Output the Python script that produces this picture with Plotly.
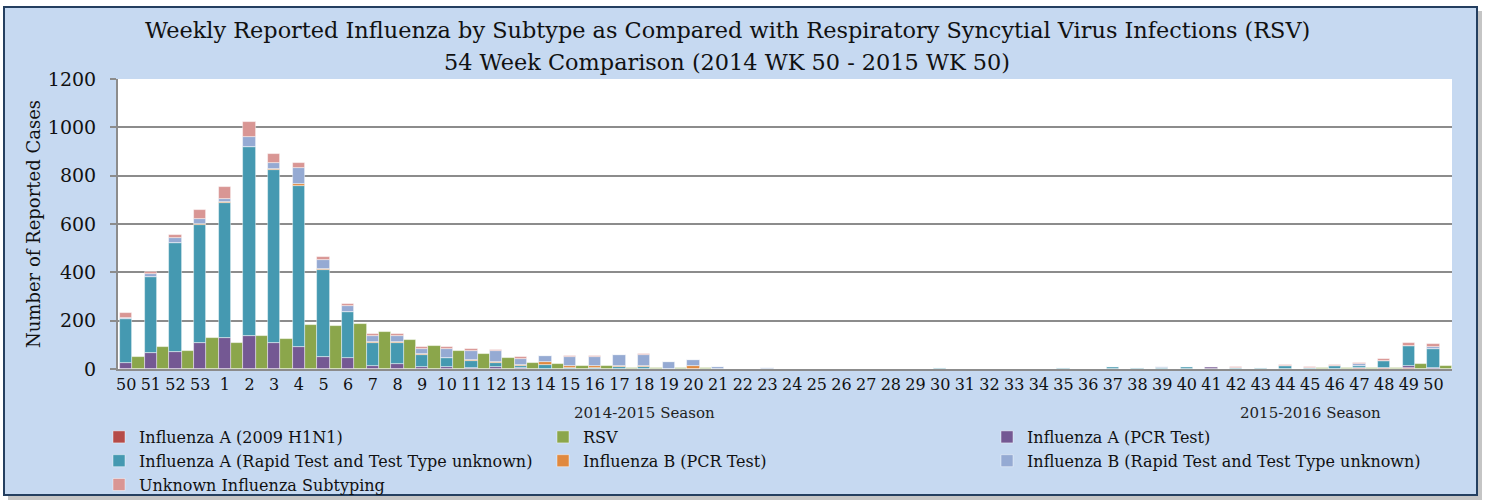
import numpy as np
import plotly.graph_objects as go

# ---------------- data ----------------
weeks = [50, 51, 52, 53] + list(range(1, 51))
seasons = ["2014-2015 Season"] * 43 + ["2015-2016 Season"] * 11

h1n1 = [0, 0, 0, 0, 0, 0, 0, 0, 0, 0,
        0, 0, 0, 0, 0, 0, 0, 0, 0, 0,
        0, 0, 0, 0, 0, 0, 0, 0, 0, 0,
        0, 0, 0, 0, 0, 0, 0, 0, 0, 0,
        0, 0, 0, 0, 0, 0, 0, 0, 0, 0,
        3, 6, 5, 1]
rsv = [51, 93, 76, 129, 109, 137, 125, 181, 177, 186,
       155, 121, 97, 75, 62, 47, 25, 22, 11, 11,
       6, 5, 4, 3, 2, 2, 2, 2, 1, 1,
       1, 1, 1, 1, 1, 1, 1, 1, 1, 1,
       1, 2, 2, 2, 2, 2, 2, 2, 3, 4,
       3, 4, 19, 12]
fluA_pcr = [25, 67, 72, 106, 129, 138, 106, 89, 51, 45,
            11, 22, 7, 10, 3, 7, 3, 2, 1, 1,
            0, 1, 0, 0, 0, 0, 0, 0, 0, 0,
            0, 0, 0, 0, 0, 0, 0, 0, 0, 2,
            0, 2, 0, 0, 7, 0, 0, 0, 0, 0,
            3, 0, 8, 5]
fluA_rapid = [181, 314, 448, 489, 557, 780, 718, 670, 359, 192,
              95, 84, 52, 36, 29, 18, 8, 15, 5, 5,
              8, 6, 2, 1, 2, 0, 1, 0, 1, 0,
              0, 1, 0, 3, 1, 0, 1, 0, 5, 0,
              8, 1, 5, 8, 1, 4, 4, 11, 6, 12,
              8, 29, 84, 78]
fluB_pcr = [0, 0, 0, 3, 3, 0, 5, 7, 2, 0,
            4, 4, 4, 0, 7, 5, 6, 13, 8, 7,
            4, 7, 0, 10, 0, 0, 0, 2, 0, 0,
            0, 0, 0, 0, 0, 0, 0, 0, 0, 0,
            0, 0, 0, 0, 0, 0, 0, 0, 0, 0,
            0, 0, 0, 0]
fluB_rapid = [7, 11, 22, 21, 14, 44, 22, 66, 37, 23,
              28, 28, 21, 37, 37, 43, 24, 22, 36, 37,
              44, 44, 26, 25, 6, 0, 3, 0, 1, 0,
              0, 0, 0, 0, 0, 0, 0, 0, 0, 0,
              0, 0, 2, 0, 0, 2, 0, 0, 0, 0,
              5, 0, 0, 9]
unknown = [18, 9, 13, 37, 49, 61, 39, 20, 16, 8,
           8, 7, 7, 8, 7, 4, 9, 3, 5, 5,
           4, 4, 0, 1, 0, 1, 2, 0, 0, 0,
           0, 0, 0, 0, 0, 0, 0, 0, 0, 0,
           0, 2, 0, 0, 0, 2, 0, 5, 2, 4,
           5, 5, 12, 11]

names = ["Influenza A (2009 H1N1)", "RSV", "Influenza A (PCR Test)",
         "Influenza A (Rapid Test and Test Type unknown)", "Influenza B (PCR Test)",
         "Influenza B (Rapid Test and Test Type unknown)", "Unknown Influenza Subtyping"]
colors = ["#B54B48", "#8BA64B", "#745893", "#4599B1", "#E0893F", "#95AAD3", "#D99694"]

title_lines = ["Weekly Reported Influenza by Subtype as Compared with Respiratory Syncytial Virus Infections (RSV)",
               "54 Week Comparison (2014 WK 50 - 2015 WK 50)"]

# ---------------- figure ----------------
idx = np.arange(len(weeks))
FONT = "DejaVu Serif"
fig = go.Figure()

flu_stack = {0: h1n1, 2: fluA_pcr, 3: fluA_rapid, 4: fluB_pcr, 5: fluB_rapid, 6: unknown}
stack_order = [0, 2, 3, 4, 5, 6]
bases = {}
running = np.zeros(len(weeks))
for k in stack_order:
    bases[k] = running.copy()
    running = running + np.array(flu_stack[k])

line = dict(color="rgba(255,255,255,0.55)", width=0.8)
for k in range(7):
    if k == 1:
        fig.add_trace(go.Bar(x=idx, y=rsv, name=names[k], marker=dict(color=colors[k], line=line),
                             offset=0, width=0.5))
    else:
        fig.add_trace(go.Bar(x=idx, y=flu_stack[k], base=bases[k], name=names[k],
                             marker=dict(color=colors[k], line=line),
                             offset=-0.5, width=0.5))

W, H = 1489, 504
L, R, T, B = 118, 37, 79, 135
pw, ph = W - L - R, H - T - B

def px_x(p):
    return (p - L) / pw

def px_y(p):
    return (H - B - p) / ph

shapes = [
    dict(type="rect", xref="paper", yref="paper", layer="below",
         x0=px_x(8), x1=px_x(1482), y0=px_y(500), y1=px_y(11),
         fillcolor="rgba(90,90,90,0.35)", line=dict(width=0)),
    dict(type="rect", xref="paper", yref="paper", layer="below",
         x0=px_x(4), x1=px_x(1477), y0=px_y(495), y1=px_y(7),
         fillcolor="#C6D9F1", line=dict(color="#243F60", width=2)),
    dict(type="rect", xref="paper", yref="paper", layer="below",
         x0=0, x1=1, y0=0, y1=1, fillcolor="white", line=dict(width=0)),
]

tickvals = idx - 0.25
annotations = []
for s in dict.fromkeys(seasons):
    pos = [tickvals[i] for i in range(len(weeks)) if seasons[i] == s]
    annotations.append(dict(x=float(np.mean(pos)), y=0, xref="x", yref="paper", yshift=-44,
                            text=s, showarrow=False, yanchor="middle",
                            font=dict(family=FONT, size=15, color="#222")))
for t, yc in zip(title_lines, [30, 62]):
    annotations.append(dict(x=px_x(727), y=px_y(yc), xref="paper", yref="paper", text=t,
                            showarrow=False, xanchor="center", yanchor="middle",
                            font=dict(family=FONT, size=22.4, color="#111")))

fig.update_layout(
    width=W, height=H,
    margin=dict(l=L, r=R, t=T, b=B, autoexpand=False),
    paper_bgcolor="white", plot_bgcolor="white",
    barmode="overlay", bargap=0,
    shapes=shapes, annotations=annotations,
    font=dict(family=FONT, color="#111"),
    showlegend=True,
    legend=dict(orientation="h", x=-19 / pw, xanchor="left", y=px_y(420), yanchor="top",
                entrywidth=399, entrywidthmode="pixels", traceorder="normal",
                font=dict(family=FONT, size=16, color="#111"), bgcolor="rgba(0,0,0,0)",
                itemclick=False, tracegroupgap=0),
)
fig.update_xaxes(range=[-0.58, 53.5], tickmode="array", tickvals=tickvals,
                 ticktext=[str(w) for w in weeks], ticks="", showgrid=False,
                 showline=True, linecolor="#8C8C8C", linewidth=2, automargin=False,
                 tickfont=dict(family=FONT, size=16, color="#111"), tickangle=0,
                 zeroline=False)
fig.update_yaxes(range=[0, 1200], dtick=200, showgrid=True, gridcolor="#8C8C8C", gridwidth=2,
                 showline=True, linecolor="#8C8C8C", linewidth=2, ticks="outside", ticklen=6,
                 tickcolor="#8C8C8C", tickwidth=2, zeroline=False, ticklabelstandoff=10,
                 automargin=False,
                 tickfont=dict(family=FONT, size=19, color="#111"),
                 title=dict(text="Number of Reported Cases", font=dict(family=FONT, size=18, color="#111"),
                            standoff=3))

fig.write_html("out.html", config={"displayModeBar": False},
               post_script="document.body.style.margin='0';document.body.style.overflow='hidden';")
